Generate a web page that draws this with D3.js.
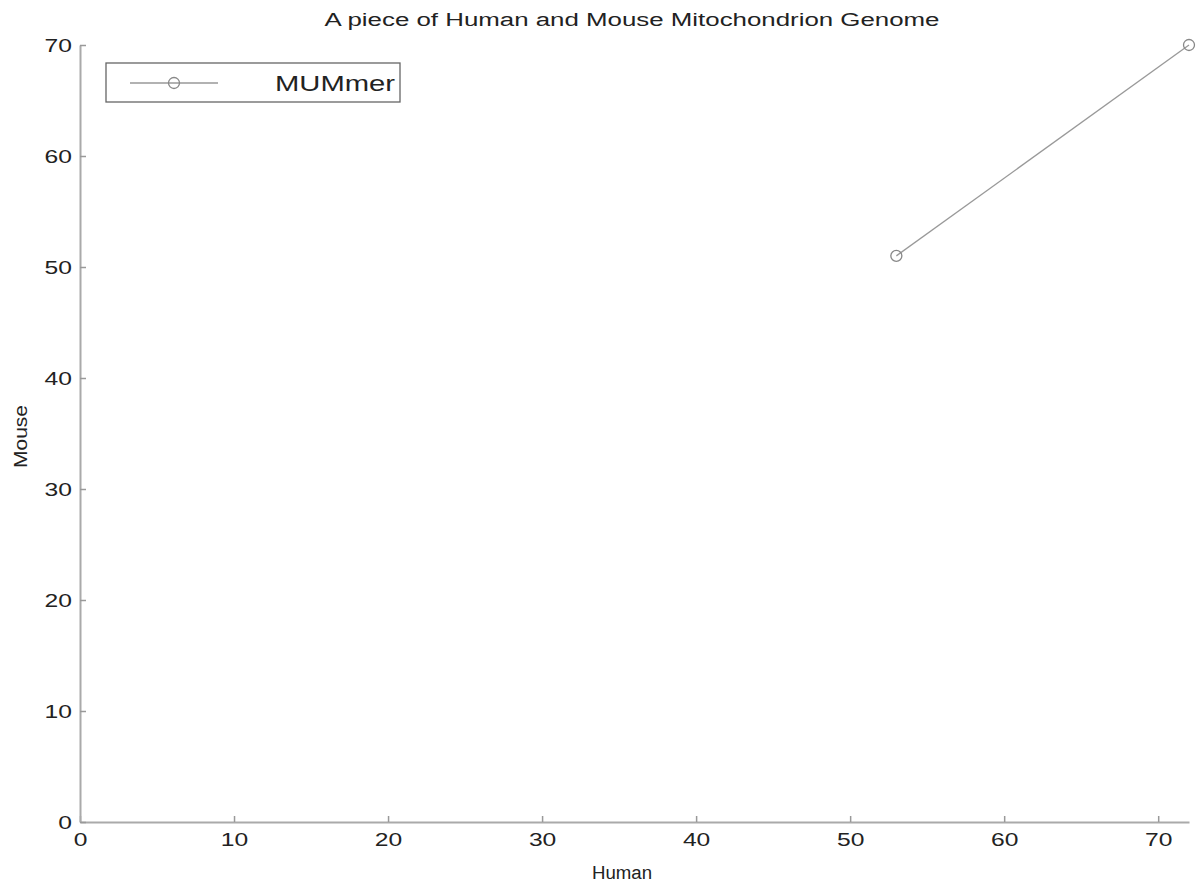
<!DOCTYPE html>
<html>
<head>
<meta charset="utf-8">
<style>
  body { margin: 0; background: #fff; }
  text { font-family: "Liberation Sans", Arial, sans-serif; fill: #222; }
</style>
<script src="https://d3js.org/d3.v7.min.js"></script>
</head>
<body>
<div id="chart"></div>
<script>
const humanVals = [53, 72];
const mouseVals = [51, 70];
const seriesName = "MUMmer";
const xTicks = [0, 10, 20, 30, 40, 50, 60, 70];
const yTicks = [0, 10, 20, 30, 40, 50, 60, 70];

const W = 1200, H = 886;
const margin = { top: 45, right: 11, bottom: 64, left: 80 };
const width = W - margin.left - margin.right,
      height = H - margin.top - margin.bottom;
// the original picture looks stretched sideways
const sx = 1.37;

const svg = d3.select("#chart").append("svg")
  .attr("width", W).attr("height", H);

const g = svg.append("g")
  .attr("transform", `translate(${margin.left},${margin.top})`);

const x = d3.scaleLinear().domain([0, 72]).range([0, width]);
const y = d3.scaleLinear().domain([0, 70]).range([height, 0]);

// axes, ticks point inward
const xAxis = g.append("g")
  .attr("transform", `translate(0,${height})`)
  .call(d3.axisBottom(x).tickValues(xTicks).tickSize(-6).tickPadding(11).tickSizeOuter(0));
const yAxis = g.append("g")
  .call(d3.axisLeft(y).tickValues(yTicks).tickSize(-6).tickPadding(8).tickSizeOuter(0));

[xAxis, yAxis].forEach(a => {
  a.select(".domain").attr("stroke", "#aaa").attr("stroke-width", 2);
  a.selectAll(".tick line").attr("stroke", "#999").attr("stroke-width", 1.5);
  a.selectAll(".tick text").style("font-size", "18px").attr("fill", "#333")
    .style("font-family", "Liberation Sans, Arial, sans-serif");
});
xAxis.selectAll(".tick text").attr("transform", `scale(${sx},1)`);
yAxis.selectAll(".tick text")
  .attr("x", -8 / sx)
  .attr("dy", "0.34em")
  .attr("transform", `scale(${sx},1)`);

// data
const pts = humanVals.map((h, i) => ({ h, m: mouseVals[i] }));
g.append("path")
  .datum(pts)
  .attr("fill", "none")
  .attr("stroke", "#999")
  .attr("stroke-width", 1.3)
  .attr("d", d3.line().x(d => x(d.h)).y(d => y(d.m)));
g.selectAll("circle.pt")
  .data(pts)
  .join("circle")
  .attr("class", "pt")
  .attr("cx", d => x(d.h)).attr("cy", d => y(d.m))
  .attr("r", 5.5)
  .attr("fill", "none").attr("stroke", "#888").attr("stroke-width", 1.3);

// title and labels
svg.append("text")
  .attr("x", 632).attr("y", 26)
  .attr("text-anchor", "middle")
  .style("font-size", "18px")
  .attr("textLength", 615).attr("lengthAdjust", "spacingAndGlyphs")
  .text("A piece of Human and Mouse Mitochondrion Genome");
svg.append("text")
  .attr("x", 622).attr("y", 879)
  .attr("text-anchor", "middle")
  .style("font-size", "18px")
  .attr("textLength", 60).attr("lengthAdjust", "spacingAndGlyphs")
  .text("Human");
svg.append("text")
  .attr("transform", `translate(27,${margin.top + y(35) + 3}) rotate(-90)`)
  .attr("text-anchor", "middle")
  .style("font-size", "18px")
  .attr("textLength", 63).attr("lengthAdjust", "spacingAndGlyphs")
  .text("Mouse");

// legend
const lg = svg.append("g").attr("transform", "translate(106,63)");
lg.append("rect")
  .attr("width", 294).attr("height", 39)
  .attr("fill", "#fff").attr("stroke", "#666").attr("stroke-width", 1.3);
lg.append("line")
  .attr("x1", 24).attr("x2", 112).attr("y1", 20).attr("y2", 20)
  .attr("stroke", "#999").attr("stroke-width", 1.3);
lg.append("circle")
  .attr("cx", 68).attr("cy", 20).attr("r", 5.5)
  .attr("fill", "none").attr("stroke", "#888").attr("stroke-width", 1.3);
lg.append("text")
  .attr("x", 169).attr("y", 28)
  .style("font-size", "22px")
  .attr("textLength", 120).attr("lengthAdjust", "spacingAndGlyphs")
  .text(seriesName);
</script>
</body>
</html>
